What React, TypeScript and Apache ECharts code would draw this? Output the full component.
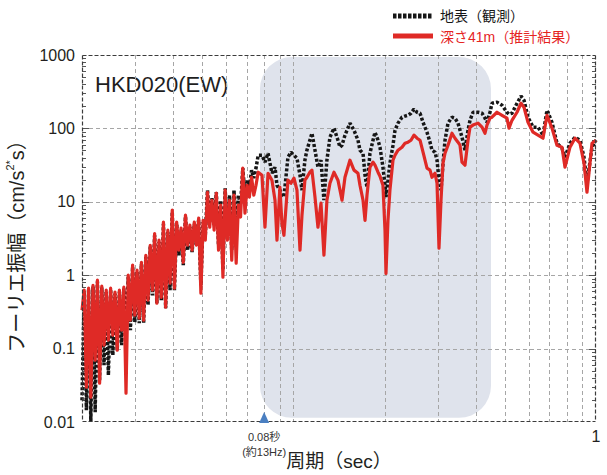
import React, { useEffect, useRef } from 'react';
import * as echarts from 'echarts';

// Period (sec) sample points
const PERIODS = [
  0.02000, 0.02034, 0.02068, 0.02103, 0.02139, 0.02175, 0.02211, 0.02249, 0.02287, 0.02325,
  0.02365, 0.02405, 0.02445, 0.02487, 0.02529, 0.02571, 0.02615, 0.02659, 0.02704, 0.02750,
  0.02796, 0.02843, 0.02891, 0.02940, 0.02990, 0.03040, 0.03092, 0.03144, 0.03197, 0.03251,
  0.03306, 0.03362, 0.03419, 0.03476, 0.03535, 0.03595, 0.03656, 0.03717, 0.03780, 0.03844,
  0.03909, 0.03975, 0.04042, 0.04111, 0.04180, 0.04251, 0.04323, 0.04396, 0.04470, 0.04546,
  0.04623, 0.04701, 0.04780, 0.04861, 0.04943, 0.05027, 0.05112, 0.05198, 0.05286, 0.05376,
  0.05467, 0.05559, 0.05653, 0.05749, 0.05846, 0.05945, 0.06046, 0.06148, 0.06252, 0.06358,
  0.06466, 0.06575, 0.06686, 0.06799, 0.06914, 0.07031, 0.07150, 0.07271, 0.07394, 0.07519,
  0.07646,
  0.0787, 0.0805, 0.0824, 0.0849, 0.0869, 0.0882, 0.0902, 0.0916, 0.0930, 0.0959,
  0.0981, 0.1004, 0.1027, 0.1051, 0.1067, 0.1091, 0.1108, 0.1133, 0.1151, 0.1178,
  0.1205, 0.1233, 0.1261, 0.1290, 0.1320, 0.1361, 0.1403, 0.1425, 0.1447, 0.1480,
  0.1537, 0.1585, 0.1634, 0.1659, 0.1698, 0.1724, 0.1750, 0.1790, 0.1832, 0.1860,
  0.1903, 0.1932, 0.1976, 0.2007, 0.2022, 0.2053, 0.2084, 0.2133, 0.2166, 0.2216,
  0.2284, 0.2337, 0.2391, 0.2446, 0.2503, 0.2561, 0.2620, 0.2681, 0.2763, 0.2827,
  0.2870, 0.2937, 0.2982, 0.3027, 0.3074, 0.3121, 0.3169, 0.3242, 0.3342, 0.3419,
  0.3498, 0.3552, 0.3606, 0.3689, 0.3775, 0.3833, 0.3922, 0.4074, 0.4200, 0.4297,
  0.4362, 0.4463, 0.4531, 0.4708, 0.4890, 0.5078, 0.5157, 0.5276, 0.5481, 0.5650,
  0.5781, 0.5960, 0.6192, 0.6430, 0.6681, 0.6887, 0.7154, 0.7431, 0.7720, 0.7898,
  0.8204, 0.8522, 0.8852, 0.9127, 0.9337, 0.9700, 1.0,
];

// 地表（観測） Fourier amplitude
const OBS = [
  0.0198, 0.60, 0.0145, 0.64, 0.0102, 0.70, 0.0136, 0.82, 0.037, 0.68,
  0.0594, 0.60, 0.0434, 0.64, 0.0813, 0.56, 0.095, 0.60, 0.111, 0.66,
  0.13, 0.95, 0.178, 1.3, 0.229, 1.1, 0.222, 1.42, 0.222, 1.78,
  0.39, 2.45, 0.53, 3.5, 0.415, 2.85, 0.456, 5.0, 0.355, 3.9,
  0.625, 7.3, 0.625, 5.0, 1.87, 4.15, 1.37, 6.3, 2.19, 4.55,
  2.06, 5.0, 2.56, 5.7, 0.73, 5.3, 3.5, 14.4, 5.3, 11.2,
  4.8, 13.5, 2.56, 10.5, 1.17, 15.3, 3.5, 12.3, 2.19, 14.4,
  4.1, 12.3, 9.0, 28.7, 12.3, 19.7, 15.8, 27, 21, 28.7,
  43.1,
  43.1, 34.7, 45.9, 24.5, 29.6, 16.8, 14.4, 12.3, 11.6, 40.5,
  47.4, 43.1, 39.3, 23, 14.4, 36.9, 50.5, 69, 86, 50.5,
  29.6, 36.9, 10.5, 36.9, 75.9, 101, 69, 55.5, 59, 80.8,
  118, 94.5, 69, 50.5, 45.9, 23, 15.8, 45.9, 69, 88.7,
  69, 55.5, 29.6, 16.8, 11.6, 19.7, 33.6, 59, 94.5, 118,
  142, 147, 151, 161, 183, 166, 161, 121, 88.7, 64.9,
  50.5, 47.4, 36.9, 19.7, 14.4, 33.6, 69, 118, 142, 138,
  118, 94.5, 75.9, 50.5, 94.5, 129, 166, 166, 161, 138,
  121, 166, 220, 228, 207, 166, 156, 161, 220, 275,
  242, 142, 104, 104, 80.8, 177, 121, 62.8, 53.7, 40.5,
  62.8, 75.9, 69, 40.5, 17.9, 55.5, 69,
];

// 深さ41m（推計結果） Fourier amplitude
const EST = [
  0.333, 0.625, 0.0298, 0.665, 0.0218, 0.73, 0.0695, 0.855, 0.0338, 0.708,
  0.111, 0.625, 0.13, 0.665, 0.152, 0.587, 0.095, 0.625, 0.178, 0.686,
  0.0247, 1.0, 0.244, 1.37, 0.285, 1.17, 0.26, 1.50, 0.244, 1.87,
  0.456, 2.56, 0.625, 3.7, 0.415, 3.0, 0.50, 5.3, 0.367, 4.1,
  0.78, 7.7, 0.665, 5.3, 2.19, 4.37, 1.50, 6.6, 2.56, 4.8,
  2.19, 5.3, 2.56, 6.0, 0.57, 5.6, 3.0, 13.5, 4.5, 10.5,
  4.1, 13.1, 2.19, 9.0, 0.94, 14.4, 3.0, 10.5, 1.6, 12.3,
  1.46, 9.0, 6.2, 28.7, 7.0, 16.8, 11.6, 21.6, 12.3, 16.8,
  25.3,
  23, 4.5, 24.5, 19.7, 10.5, 3.0, 15.8, 5.1, 3.5, 19.7,
  17.9, 21, 14.4, 2.19, 6.6, 19.7, 21.6, 25.3, 27, 11.6,
  4.5, 9.6, 1.87, 10.5, 17.9, 25.3, 19.7, 14.4, 10.5, 21.6,
  36.9, 27, 24.5, 16.8, 10.5, 5.6, 12.3, 29.6, 34.7, 31.5,
  25.3, 22.3, 16.8, 4.1, 1.06, 5.6, 14.4, 36.9, 43.1, 50.5,
  55.5, 62.8, 64.9, 69, 80.8, 73.5, 69, 47.4, 28.7, 27,
  21.6, 24.5, 17.9, 2.33, 10.5, 33.6, 45.9, 59, 86, 73.5,
  64.9, 59, 34.7, 31.5, 69, 104, 111, 118, 104, 86,
  111, 138, 142, 166, 151, 138, 101, 129, 166, 220,
  194, 121, 88.7, 80.8, 73.5, 151, 101, 59, 55.5, 29.6,
  55.5, 73.5, 62.8, 33.6, 13.5, 62.8, 69,
];

const SERIES_NAMES = ['地表（観測）', '深さ41m（推計結果）'];
const X_GRID = [0.03, 0.04, 0.05, 0.06, 0.07, 0.08, 0.09, 0.1, 0.2, 0.3, 0.4, 0.5, 0.6, 0.7, 0.8, 0.9];
const Y_GRID = [0.1, 1, 10, 100];
const Y_DECADES = [0.01, 0.1, 1, 10, 100];
const MINOR_MULTS = [2, 3, 4, 5, 6, 7, 8, 9];
const SHADE_X = [0.0775, 0.4497];
const SHADE_Y = [0.0114, 940];
const MARK_PERIOD = 0.08;
const MARK_LABELS = ['0.08秒', '(約13Hz)'];
const TITLE = 'HKD020(EW)';

const FONT = 'Liberation Sans, Arial, Noto Sans CJK JP, sans-serif';
const RED = '#df2a26';
const BLACK = '#161616';
const TEXT = '#231f20';

export default function App() {
  const ref = useRef<HTMLDivElement>(null);

  useEffect(() => {
    const chart = echarts.init(ref.current as HTMLDivElement, null, { renderer: 'svg' });

    const yMinor: number[] = [];
    Y_DECADES.forEach((d) => MINOR_MULTS.forEach((m) => yMinor.push(+(d * m).toPrecision(3))));

    const gridData: number[][] = [
      ...X_GRID.map((x) => [x, 1, 0]),
      ...Y_GRID.map((y) => [0.1, y, 1]),
      ...yMinor.map((y) => [0.1, y, 2]),
      ...Y_GRID.map((y) => [0.1, y, 3]),
    ];

    const dash = { stroke: '#a6a6a6', lineWidth: 1, lineDash: [4, 3] };

    const option: any = {
      animation: false,
      backgroundColor: '#ffffff',
      grid: { left: 82, right: 11, top: 55, bottom: 53, containLabel: false, outerBoundsMode: 'none' },
      xAxis: {
        type: 'log',
        logBase: 10,
        min: 0.02,
        max: 1,
        axisLine: { show: false },
        axisTick: { show: false },
        splitLine: { show: false },
        axisLabel: {
          fontSize: 16,
          color: TEXT,
          fontFamily: FONT,
          margin: 6,
          showMaxLabel: true,
          formatter: (v: number) => (Math.abs(v - 1) < 1e-9 ? '1' : ''),
        },
        name: '周期（sec）',
        nameLocation: 'middle',
        nameGap: 30,
        nameTextStyle: { fontSize: 19, color: TEXT, fontFamily: FONT },
      },
      yAxis: {
        type: 'log',
        logBase: 10,
        min: 0.01,
        max: 1000,
        axisLine: { show: false },
        axisTick: { show: false },
        splitLine: { show: false },
        axisLabel: {
          fontSize: 16,
          color: TEXT,
          fontFamily: FONT,
          margin: 7,
          formatter: (v: number) => String(+v.toPrecision(4)),
        },
        name: 'フーリエ振幅（cm/s{sup|2*}s）',
        nameLocation: 'middle',
        nameGap: 47,
        nameRotate: 90,
        nameTextStyle: {
          fontSize: 20,
          lineHeight: 24,
          color: TEXT,
          fontFamily: FONT,
          padding: [0, 6, 0, 0],
          rich: {
            sup: { fontSize: 11, lineHeight: 11, verticalAlign: 'top', color: TEXT, fontFamily: FONT },
          },
        },
      },
      graphic: [
        {
          type: 'line',
          shape: { x1: 393, y1: 16, x2: 433, y2: 16 },
          style: { stroke: BLACK, lineWidth: 5, lineDash: [3.5, 1.5] },
        },
        {
          type: 'text',
          x: 440,
          y: 16,
          style: { text: SERIES_NAMES[0], fontSize: 14, fill: BLACK, verticalAlign: 'middle', fontFamily: FONT },
        },
        {
          type: 'line',
          shape: { x1: 393, y1: 36, x2: 433, y2: 36 },
          style: { stroke: RED, lineWidth: 5 },
        },
        {
          type: 'text',
          x: 440,
          y: 37,
          style: { text: SERIES_NAMES[1], fontSize: 14, fill: '#e5241f', verticalAlign: 'middle', fontFamily: FONT },
        },
        {
          type: 'text',
          x: 95,
          y: 84,
          style: { text: TITLE, fontSize: 22, fill: '#1e1e1e', verticalAlign: 'middle', fontFamily: FONT },
        },
      ],
      series: [
        {
          type: 'custom',
          name: 'shade',
          z: 1,
          silent: true,
          data: [[SHADE_X[0], SHADE_Y[0]]],
          renderItem: (params: any, api: any) => {
            const p1 = api.coord([SHADE_X[0], SHADE_Y[1]]);
            const p2 = api.coord([SHADE_X[1], SHADE_Y[0]]);
            return {
              type: 'rect',
              shape: { x: p1[0], y: p1[1], width: p2[0] - p1[0], height: p2[1] - p1[1], r: 32 },
              style: { fill: '#dfe3ec' },
            };
          },
        },
        {
          type: 'custom',
          name: 'gridlines',
          z: 1.5,
          silent: true,
          data: gridData,
          renderItem: (params: any, api: any) => {
            const cs = params.coordSys;
            const kind = api.value(2);
            const x0 = cs.x;
            const x1 = cs.x + cs.width;
            const y0 = cs.y;
            const y1 = cs.y + cs.height;
            if (kind === 0) {
              const px = Math.round(api.coord([api.value(0), 1])[0]) + 0.5;
              return { type: 'line', shape: { x1: px, y1: y0, x2: px, y2: y1 }, style: dash };
            }
            const py = Math.round(api.coord([0.1, api.value(1)])[1]) + 0.5;
            if (kind === 1) {
              return { type: 'line', shape: { x1: x0, y1: py, x2: x1, y2: py }, style: dash };
            }
            const len = kind === 2 ? 4 : 7;
            const st = { stroke: '#555', lineWidth: 1 };
            return {
              type: 'group',
              children: [
                { type: 'line', shape: { x1: x0, y1: py, x2: x0 + len, y2: py }, style: st },
                { type: 'line', shape: { x1: x1 - len, y1: py, x2: x1, y2: py }, style: st },
              ],
            };
          },
        },
        {
          type: 'line',
          name: SERIES_NAMES[0],
          z: 2,
          showSymbol: false,
          symbol: 'none',
          data: PERIODS.map((p, i) => [p, OBS[i]]),
          lineStyle: { color: BLACK, width: 3.5, type: [3, 2], cap: 'butt' },
        },
        {
          type: 'line',
          name: SERIES_NAMES[1],
          z: 3,
          showSymbol: false,
          symbol: 'none',
          data: PERIODS.map((p, i) => [p, EST[i]]),
          lineStyle: { color: RED, width: 3.2, join: 'round' },
        },
        {
          type: 'custom',
          name: 'frame',
          z: 4,
          silent: true,
          data: [[0.1, 1]],
          renderItem: (params: any) => {
            const cs = params.coordSys;
            const x0 = Math.round(cs.x) + 0.5;
            const x1 = Math.round(cs.x + cs.width) - 0.5;
            const y0 = Math.round(cs.y) + 0.5;
            const y1 = Math.round(cs.y + cs.height) - 0.5;
            const st = { stroke: '#3c3c3c', lineWidth: 1.2, lineDash: [4, 2] };
            return {
              type: 'group',
              children: [
                { type: 'line', shape: { x1: x0, y1: y0, x2: x1, y2: y0 }, style: st },
                { type: 'line', shape: { x1: x0, y1: y1, x2: x1, y2: y1 }, style: st },
                { type: 'line', shape: { x1: x0, y1: y0, x2: x0, y2: y1 }, style: st },
                { type: 'line', shape: { x1: x1, y1: y0, x2: x1, y2: y1 }, style: st },
              ],
            };
          },
        },
        {
          type: 'custom',
          name: 'marker',
          z: 5,
          silent: true,
          data: [[MARK_PERIOD, 0.01]],
          renderItem: (params: any, api: any) => {
            const p = api.coord([api.value(0), api.value(1)]);
            return {
              type: 'group',
              children: [
                {
                  type: 'polygon',
                  shape: { points: [[p[0] - 5, p[1] + 1], [p[0] + 5, p[1] + 1], [p[0], p[1] - 10]] },
                  style: { fill: '#4a7fc1' },
                },
                {
                  type: 'text',
                  x: p[0],
                  y: p[1] + 15,
                  style: { text: MARK_LABELS[0], fontSize: 11, fill: '#333', align: 'center', verticalAlign: 'middle', fontFamily: FONT },
                },
                {
                  type: 'text',
                  x: p[0],
                  y: p[1] + 30,
                  style: { text: MARK_LABELS[1], fontSize: 11, fill: '#333', align: 'center', verticalAlign: 'middle', fontFamily: FONT },
                },
              ],
            };
          },
        },
      ],
    };

    chart.setOption(option);
    return () => chart.dispose();
  }, []);

  return (
    <div
      ref={ref}
      style={{ position: 'fixed', left: 0, top: 0, width: 607, height: 475, background: '#fff' }}
    />
  );
}
